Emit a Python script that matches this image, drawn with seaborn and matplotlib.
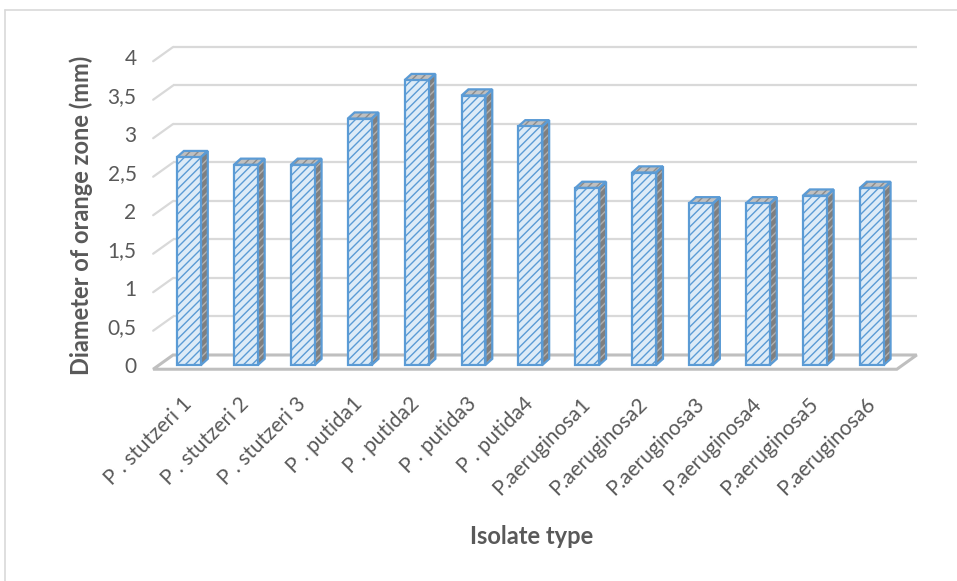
import matplotlib
matplotlib.use("Agg")
import matplotlib.pyplot as plt
import matplotlib.transforms as mtransforms
from matplotlib.patches import Polygon
from matplotlib.lines import Line2D
import seaborn as sns
import pandas as pd

# Isolates and the measured orange-zone diameters (mm)
isolates = ["P . stutzeri 1", "P . stutzeri 2", "P . stutzeri 3",
            "P . putida1", "P . putida2", "P . putida3", "P . putida4",
            "P.aeruginosa1", "P.aeruginosa2", "P.aeruginosa3",
            "P.aeruginosa4", "P.aeruginosa5", "P.aeruginosa6"]
diameters = [2.7, 2.6, 2.6, 3.2, 3.7, 3.5, 3.1, 2.3, 2.5, 2.1, 2.1, 2.2, 2.3]
y_ticks = [0, 0.5, 1, 1.5, 2, 2.5, 3, 3.5, 4]
y_tick_labels = ["0", "0,5", "1", "1,5", "2", "2,5", "3", "3,5", "4"]

sns.set_theme(style="white")
plt.rcParams["font.family"] = ["Lato", "DejaVu Sans"]
plt.rcParams["hatch.linewidth"] = 1.0

TEXT = "#595959"
GRID = "#d9d9d9"
BLUE = "#5b9bd5"
FACE = "#ddebf7"

W, H = 957, 581
fig = plt.figure(figsize=(W / 100, H / 100), dpi=100)

# axes placed in pixel terms
x_lo, x_hi = -0.8, 13.0
y_lo, y_hi = -0.1, 4.25
px_cat, px_unit = 56.9, 77.0
left_px = 189 + x_lo * px_cat
right_px = 189 + x_hi * px_cat
bot_px = 365 - y_lo * px_unit
top_px = 365 - y_hi * px_unit
ax = fig.add_axes([left_px / W, 1 - bot_px / H,
                   (right_px - left_px) / W, (bot_px - top_px) / H])

df = pd.DataFrame({"Isolate type": isolates, "Diameter": diameters})
sns.barplot(data=df, x="Isolate type", y="Diameter", ax=ax, width=0.42,
            color=FACE, saturation=1, edgecolor=BLUE, linewidth=1.6, zorder=4)

ax.set_xlim(x_lo, x_hi)
ax.set_ylim(y_lo, y_hi)
for s in ax.spines.values():
    s.set_visible(False)

# back wall / floor geometry (oblique projection)
ddx, ddy = 0.35, 0.185
fx0, fx1 = -0.63, 12.44
fy = -0.055

for v in y_ticks[1:]:
    ax.plot([fx0 + ddx, fx1 + ddx], [v + fy + ddy, v + fy + ddy],
            color=GRID, lw=1.6, zorder=1, solid_capstyle="butt")
    ax.plot([fx0, fx0 + ddx], [v + fy, v + fy + ddy],
            color=GRID, lw=1.6, zorder=1)

floor = Polygon([(fx0, fy), (fx1, fy), (fx1 + ddx, fy + ddy), (fx0 + ddx, fy + ddy)],
                closed=True, facecolor="white", edgecolor="#bfbfbf", lw=2.2, zorder=2)
ax.add_patch(floor)

# bar depth faces derived from each drawn bar
bdx, bdy = 0.12, 0.08
for p in list(ax.patches):
    if p is floor:
        continue
    p.set_hatch("////")
    x0 = p.get_x()
    x1 = x0 + p.get_width()
    y0 = p.get_y()
    y1 = y0 + p.get_height()
    side = [(x1, y0), (x1 + bdx, y0 + bdy), (x1 + bdx, y1 + bdy), (x1, y1)]
    top = [(x0, y1), (x1, y1), (x1 + bdx, y1 + bdy), (x0 + bdx, y1 + bdy)]
    ax.add_patch(Polygon(side, closed=True, facecolor="#7f7f7f", edgecolor="#b0b0b0",
                         hatch="////", lw=0, zorder=3))
    ax.add_patch(Polygon(top, closed=True, facecolor="#bfbfbf", edgecolor="#8c8c8c",
                         hatch="////", lw=0, zorder=3))
    for poly in (side, top):
        ax.add_patch(Polygon(poly, closed=True, facecolor="none", edgecolor=BLUE,
                             lw=1.6, zorder=3.5))

ax.set_yticks(y_ticks)
ax.set_yticklabels(y_tick_labels)
ax.tick_params(axis="y", length=0, pad=5, labelsize=15, labelcolor=TEXT)
ax.tick_params(axis="x", length=0, pad=15, labelsize=15, labelcolor=TEXT)
shift = mtransforms.ScaledTranslation(-7 / 100, 0, fig.dpi_scale_trans)
for lab in ax.get_xticklabels():
    lab.set_rotation(45)
    lab.set_ha("right")
    lab.set_va("top")
    lab.set_rotation_mode("anchor")
    lab.set_transform(lab.get_transform() + shift)

ax.set_xlabel("")
ax.set_ylabel("")
fig.text(81 / W, 1 - 215 / H, "Diameter of orange zone (mm)", rotation=90,
         ha="center", va="center", fontsize=17, fontweight="bold", color=TEXT)
fig.text(532 / W, 1 - 536 / H, "Isolate type", ha="center", va="center",
         fontsize=17, fontweight="bold", color=TEXT)

# chart area border
fig.add_artist(Line2D([5 / W, 5 / W], [0, 1 - 10 / H], transform=fig.transFigure,
                      color=GRID, lw=1.2))
fig.add_artist(Line2D([5 / W, 1], [1 - 10 / H, 1 - 10 / H], transform=fig.transFigure,
                      color=GRID, lw=1.2))

fig.savefig("out.png", dpi=100, facecolor="white")
